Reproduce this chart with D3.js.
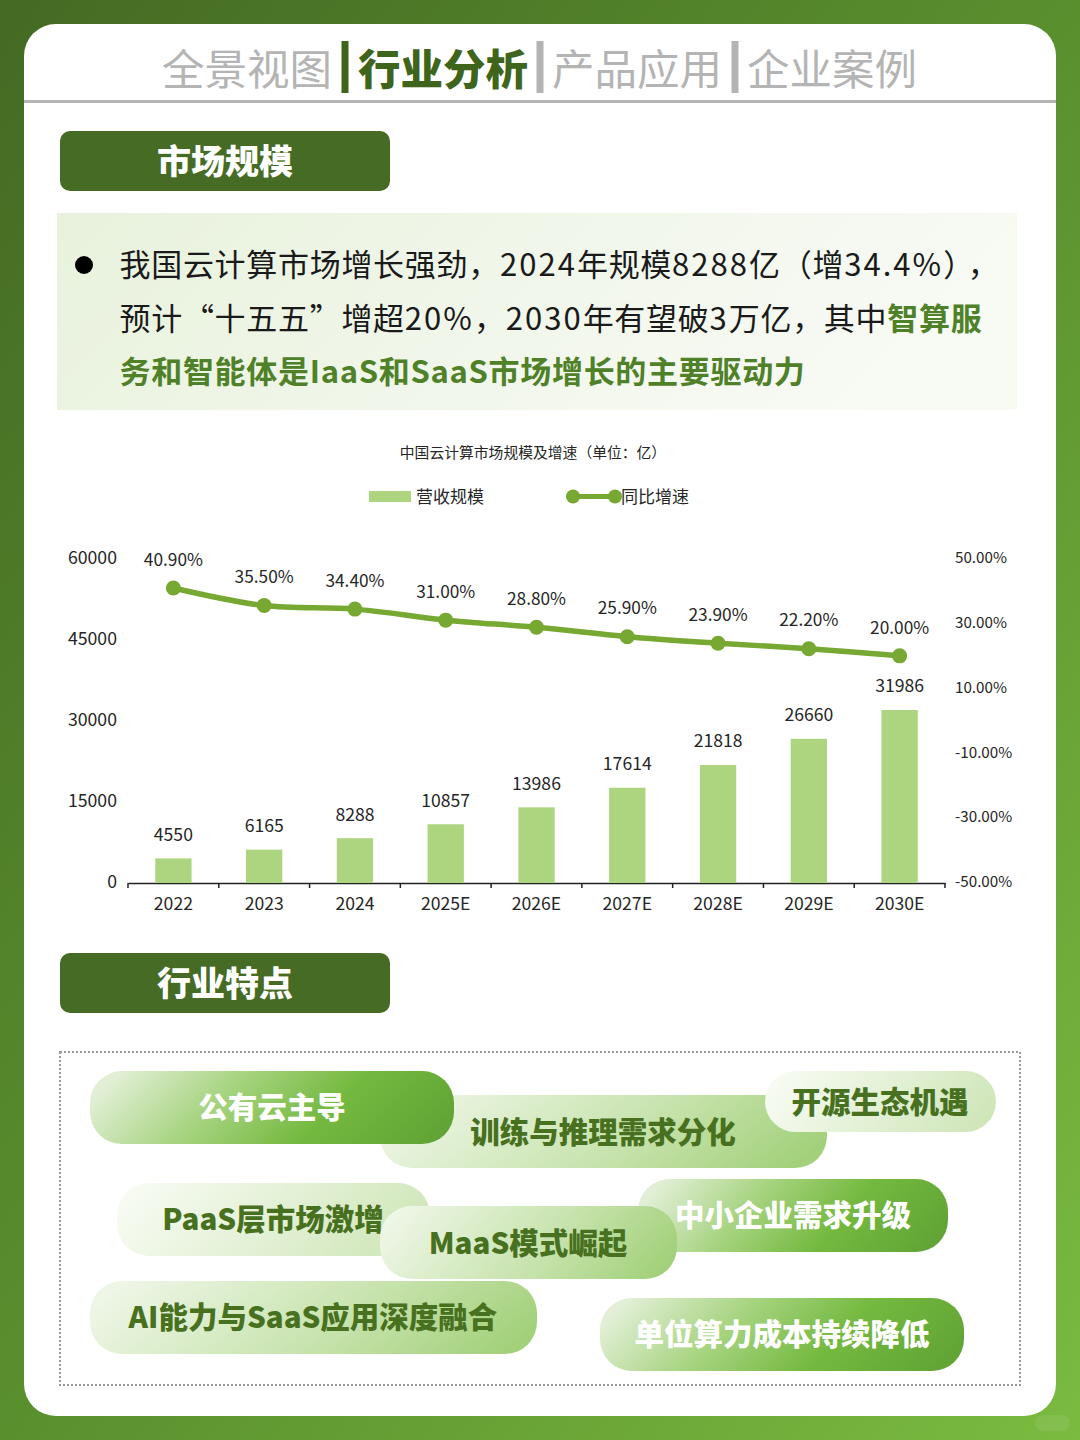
<!DOCTYPE html>
<html lang="zh">
<head>
<meta charset="utf-8">
<title>市场规模</title>
<script src="https://cdn.jsdelivr.net/npm/d3@7/dist/d3.min.js"></script>
<style>
html,body{margin:0;padding:0;background:#fff}
svg{display:block}
text{font-family:"Noto Sans CJK SC","Noto Sans",sans-serif}
</style>
</head>
<body>
<svg id="c" width="1080" height="1440"></svg>
<script>
// ---- data ----
const years = ["2022","2023","2024","2025E","2026E","2027E","2028E","2029E","2030E"];
const revenue = [4550,6165,8288,10857,13986,17614,21818,26660,31986];
const growth = [40.9,35.5,34.4,31.0,28.8,25.9,23.9,22.2,20.0];
const leftTicks = [0,15000,30000,45000,60000];
const rightTicks = [-50,-30,-10,10,30,50];
const tabs = ["全景视图","行业分析","产品应用","企业案例"];
const chartTitle = "中国云计算市场规模及增速（单位：亿）";
const legendNames = ["营收规模","同比增速"];
const sectionTitles = ["市场规模","行业特点"];
const paragraphLines = [
  [["我国云计算市场增长强劲，2024年规模8288亿（增34.4%），",0]],
  [["预计“十五五”增超20%，2030年有望破3万亿，其中",0],["智算服",1]],
  [["务和智能体是IaaS和SaaS市场增长的主要驱动力",1]]
];
const tagNames = ["训练与推理需求分化","公有云主导","开源生态机遇","PaaS层市场激增","中小企业需求升级","MaaS模式崛起","AI能力与SaaS应用深度融合","单位算力成本持续降低"];

// ---- layout (separate from the data) ----
const tagBoxes = [
  {x:380,y:1095,w:447,h:73,tx:603,ty:1132,g:"gMid",c:"#47701f"},
  {x:90,y:1071,w:364,h:73,tx:272,ty:1107,g:"gStrong",c:"#fff"},
  {x:765,y:1071,w:231,h:61,tx:880,ty:1102,g:"gPale",c:"#47701f"},
  {x:117,y:1183,w:313,h:73,tx:273,ty:1219,g:"gPale",c:"#47701f"},
  {x:638,y:1179,w:310,h:73,tx:793,ty:1215,g:"gStrong",c:"#fff"},
  {x:380,y:1206,w:297,h:73,tx:528,ty:1243,g:"gMid",c:"#47701f"},
  {x:90,y:1281,w:447,h:73,tx:313,ty:1317,g:"gMid",c:"#47701f"},
  {x:600,y:1298,w:364,h:73,tx:782,ty:1334,g:"gStrong",c:"#fff"}
];
const svg = d3.select("#c");
const defs = svg.append("defs");
function grad(id, stops, x1=0,y1=0,x2=1,y2=1){
  const g = defs.append("linearGradient").attr("id",id)
    .attr("x1",x1).attr("y1",y1).attr("x2",x2).attr("y2",y2);
  stops.forEach(s=>g.append("stop").attr("offset",s[0]).attr("stop-color",s[1]));
}
grad("bg",[[0,"#446a23"],[0.5,"#5a8f2e"],[1,"#7abb40"]]);
grad("gStrong",[[0,"#e2efd6"],[0.33,"#a8d482"],[0.66,"#74b93f"],[1,"#62a536"]],0,0.4,1,0.6);
grad("gMid",[[0,"#eef6e6"],[0.6,"#c5e2aa"],[1,"#a3d17b"]],0,0.4,1,0.6);
grad("gPale",[[0,"#f7fbf2"],[1,"#cfe6b8"]],0,0.4,1,0.6);
grad("gBox",[[0,"#e8f2dc"],[0.6,"#f2f7ec"],[1,"#f8faf4"]],0,0,1,0.2);

svg.append("rect").attr("width",1080).attr("height",1440).attr("fill","url(#bg)");
svg.append("rect").attr("x",24).attr("y",24).attr("width",1032).attr("height",1392).attr("rx",32).attr("fill","#fff");
svg.append("rect").attr("x",1035).attr("y",1415).attr("width",35).attr("height",16).attr("rx",8).attr("fill","#fff").attr("opacity",0.08);

// tabs
const tabX = [247,443,637,832];
tabs.forEach((t,i)=>{
  svg.append("text").attr("x",tabX[i]).attr("y",70).attr("dy","0.36em").attr("text-anchor","middle")
    .attr("font-size",42.5).attr("font-weight",i===1?900:400)
    .attr("fill",i===1?"#3f651d":"#b4b4b4").text(t);
});
[[345,"#3f651d"],[540,"#b4b4b4"],[735,"#b4b4b4"]].forEach(d=>{
  svg.append("rect").attr("x",d[0]-3.5).attr("y",41).attr("width",7).attr("height",52).attr("fill",d[1]);
});
svg.append("rect").attr("x",24).attr("y",100).attr("width",1032).attr("height",3).attr("fill","#b5b5b5");

// section headers
[131,953].forEach((y,i)=>{
  svg.append("rect").attr("x",60).attr("y",y).attr("width",330).attr("height",60).attr("rx",10).attr("fill","#466b24");
  svg.append("text").attr("x",225).attr("y",y+31).attr("dy","0.36em").attr("text-anchor","middle")
    .attr("font-size",34).attr("font-weight",900).attr("fill","#fff").text(sectionTitles[i]);
});

// paragraph: regular-weight digits carry a little extra tracking
svg.append("rect").attr("x",57).attr("y",213).attr("width",960).attr("height",197).attr("fill","url(#gBox)");
svg.append("circle").attr("cx",84).attr("cy",265).attr("r",9).attr("fill","#000");
paragraphLines.forEach((line,i)=>{
  const t = svg.append("text").attr("x",119.5).attr("y",276+i*53.5).attr("font-size",31);
  line.forEach(seg=>{
    const parts = seg[1] ? [seg[0]] : seg[0].match(/[0-9.%]+|）|[^0-9.%）]+/g);
    parts.forEach(p=>{
      const spacing = seg[1] ? 0.7 : p==="）" ? 9 : /^[0-9.%]/.test(p) ? 2.05 : 0.7;
      t.append("tspan").text(p).attr("fill",seg[1]?"#4f8128":"#1a1a1a")
        .attr("font-weight",seg[1]?700:400).attr("letter-spacing",spacing);
    });
  });
});

// chart
const x = d3.scaleBand().domain(years).range([128,945]).paddingInner(0.6).paddingOuter(0.3);
const yL = d3.scaleLinear().domain([0,60000]).range([883,558.5]);
const yR = d3.scaleLinear().domain([-50,50]).range([883,558.5]);
const cx = d => x(d)+x.bandwidth()/2;

svg.append("text").attr("x",533).attr("y",453).attr("dy","0.36em").attr("text-anchor","middle")
  .attr("font-size",14.8).attr("fill","#262626").text(chartTitle);

// legend
svg.append("rect").attr("x",369).attr("y",491).attr("width",42).attr("height",11).attr("fill","#add57f");
svg.append("text").attr("x",416).attr("y",497).attr("dy","0.36em").attr("font-size",17).attr("fill","#262626").text(legendNames[0]);
svg.append("line").attr("x1",573).attr("x2",615).attr("y1",496.5).attr("y2",496.5).attr("stroke","#76a832").attr("stroke-width",5);
[573,615].forEach(v=>svg.append("circle").attr("cx",v).attr("cy",496.5).attr("r",7).attr("fill","#76a832"));
svg.append("text").attr("x",621).attr("y",497).attr("dy","0.36em").attr("font-size",17).attr("fill","#262626").text(legendNames[1]);

// axes
const axL = svg.append("g").attr("transform","translate(117,-1)")
  .call(d3.axisLeft(yL).tickValues(leftTicks).tickSize(0).tickPadding(0).tickFormat(d3.format("d")));
axL.select(".domain").remove();
axL.selectAll("text").attr("font-size",17.7).attr("fill","#262626").style("font-family",'"Noto Sans CJK SC"');
const axR = svg.append("g").attr("transform","translate(955,-1)")
  .call(d3.axisRight(yR).tickValues(rightTicks).tickSize(0).tickPadding(0).tickFormat(d=>d.toFixed(2)+"%"));
axR.select(".domain").remove();
axR.selectAll("text").attr("font-size",15.2).attr("fill","#262626").style("font-family",'"Noto Sans CJK SC"');
const axB = svg.append("g").attr("transform","translate(0,883)")
  .call(d3.axisBottom(x).tickSize(0).tickPadding(15));
axB.select(".domain").attr("stroke","#222").attr("stroke-width",1.5);
axB.selectAll("text").attr("font-size",17.6).attr("fill","#262626").style("font-family",'"Noto Sans CJK SC"');
axB.selectAll(".bound").data(d3.range(years.length+1)).join("line").attr("class","bound")
  .attr("x1",i=>128+i*(817/years.length)).attr("x2",i=>128+i*(817/years.length))
  .attr("y1",0).attr("y2",5).attr("stroke","#222").attr("stroke-width",1.5);

// bars
svg.append("g").selectAll("rect").data(years).join("rect")
  .attr("x",d=>x(d)).attr("width",x.bandwidth())
  .attr("y",(d,i)=>yL(revenue[i])).attr("height",(d,i)=>883-yL(revenue[i]))
  .attr("fill","#add57f");
svg.append("g").selectAll("text").data(years).join("text")
  .attr("x",cx).attr("y",(d,i)=>yL(revenue[i])-24).attr("dy","0.36em").attr("text-anchor","middle")
  .attr("font-size",17.6).attr("fill","#262626").text((d,i)=>revenue[i]);

// line
const line = d3.line().x((d,i)=>cx(years[i])).y(d=>yR(d)).curve(d3.curveCatmullRom.alpha(0.5));
svg.append("path").attr("d",line(growth)).attr("fill","none").attr("stroke","#76a832").attr("stroke-width",5.5);
svg.append("g").selectAll("circle").data(growth).join("circle")
  .attr("cx",(d,i)=>cx(years[i])).attr("cy",d=>yR(d)).attr("r",7.5).attr("fill","#76a832");
svg.append("g").selectAll("text").data(growth).join("text")
  .attr("x",(d,i)=>cx(years[i])).attr("y",d=>yR(d)-28.5).attr("dy","0.36em").attr("text-anchor","middle")
  .attr("font-size",17.3).attr("fill","#262626").text(d=>d.toFixed(2)+"%");

// dotted frame
svg.append("rect").attr("x",60).attr("y",1052).attr("width",960).attr("height",333)
  .attr("fill","none").attr("stroke","#999").attr("stroke-width",2).attr("stroke-dasharray","2 2");

// tags
tagBoxes.forEach((b,i)=>{
  svg.append("rect").attr("x",b.x).attr("y",b.y).attr("width",b.w).attr("height",b.h)
    .attr("rx",Math.min(32,b.h/2)).attr("fill",`url(#${b.g})`);
  svg.append("text").attr("x",b.tx).attr("y",b.ty).attr("dy","0.36em").attr("text-anchor","middle")
    .attr("font-size",29.5).attr("font-weight",900).attr("fill",b.c).text(tagNames[i]);
});
</script>
</body>
</html>
